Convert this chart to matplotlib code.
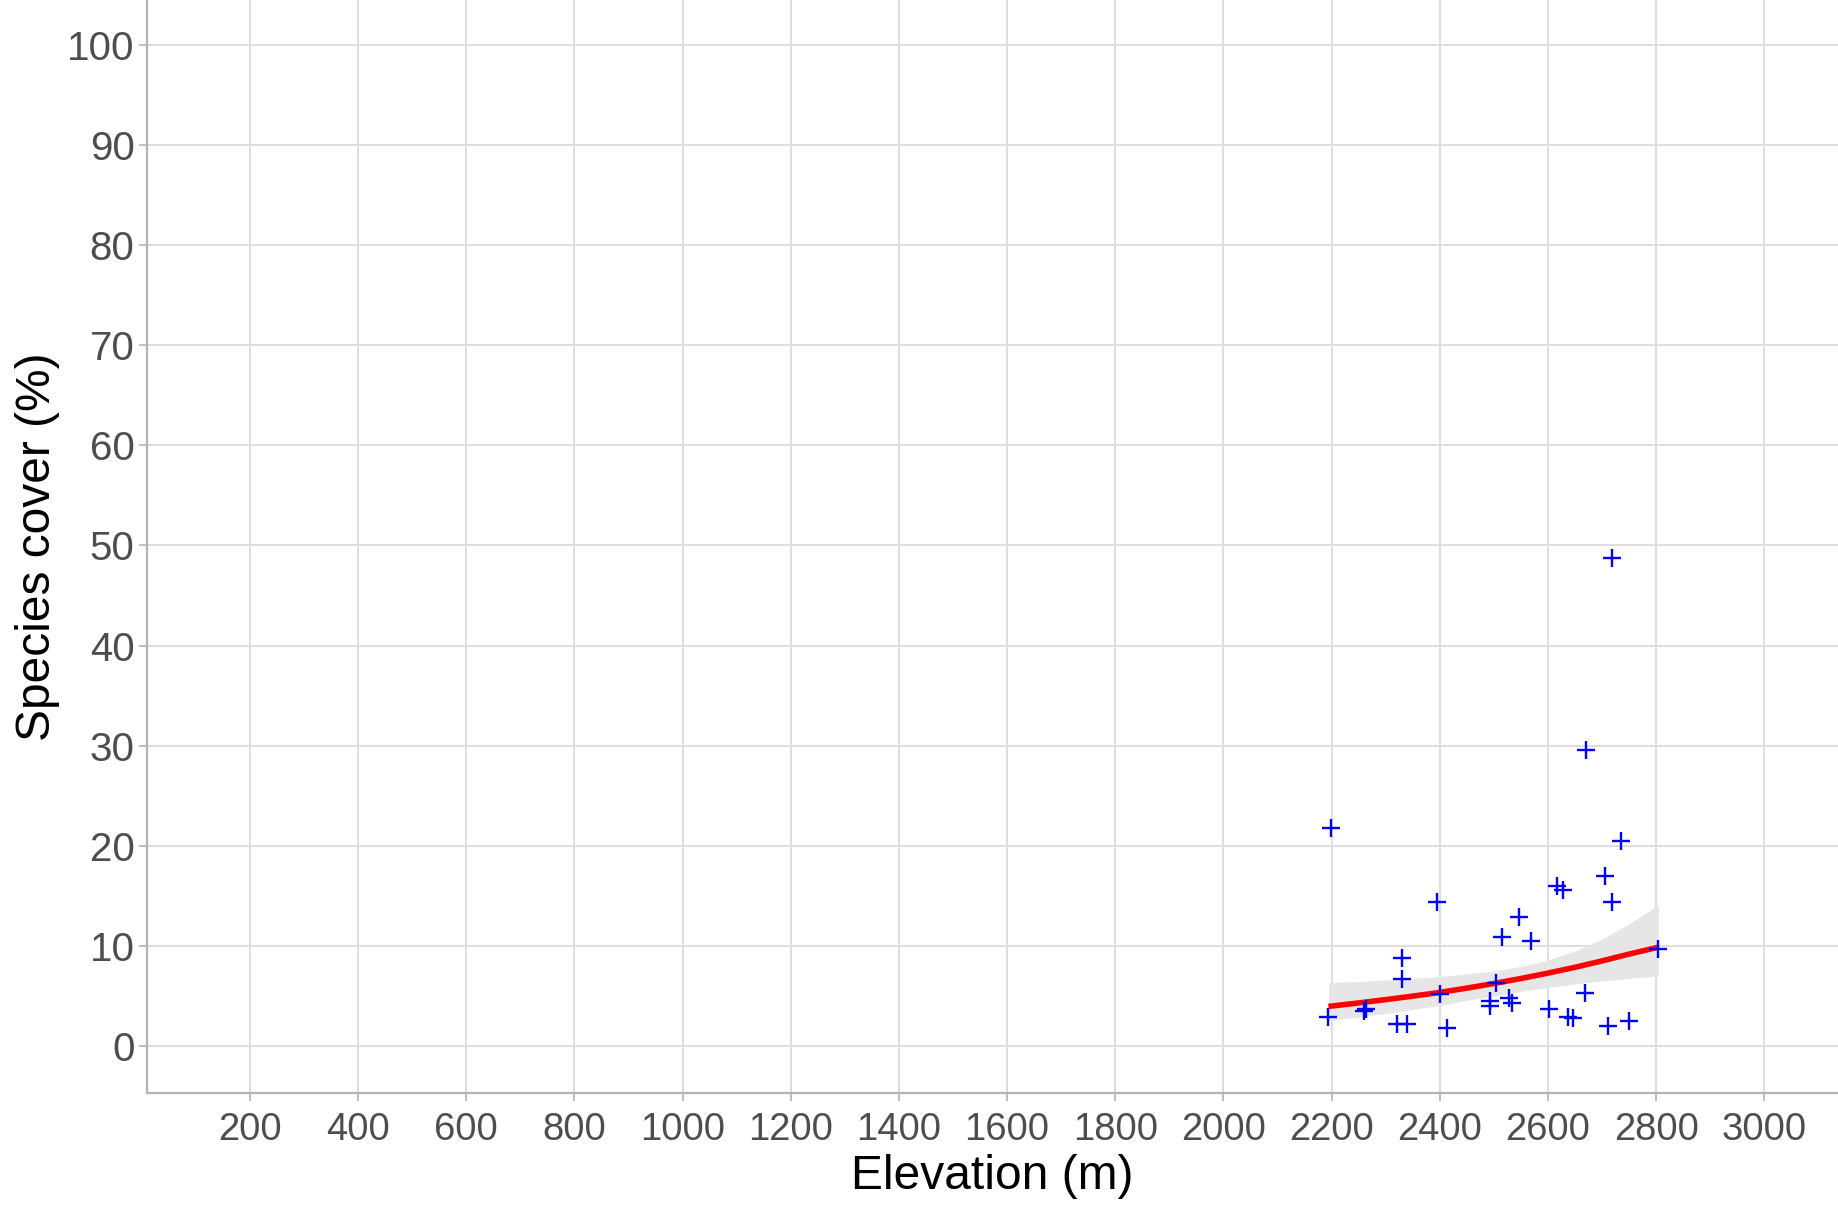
import numpy as np
import matplotlib
matplotlib.use("Agg")
from matplotlib import pyplot as plt

# points (elevation m, cover %)
elevation = [2199, 2734, 2705, 2616, 2628, 2395, 2719, 2547, 2514, 2568,
             2804, 2330, 2330, 2504, 2668, 2401, 2527, 2493, 2534, 2493,
             2602, 2263, 2260, 2194, 2637, 2647, 2321, 2340, 2750, 2711,
             2413, 2718, 2671]
cover = [21.8, 20.5, 17.0, 16.0, 15.6, 14.4, 14.4, 12.9, 10.9, 10.5,
         9.7, 8.8, 6.7, 6.3, 5.3, 5.15, 4.8, 4.5, 4.3, 3.95,
         3.65, 3.7, 3.5, 2.9, 2.9, 2.8, 2.2, 2.15, 2.5, 2.0,
         1.8, 48.8, 29.6]

# fitted curve and its band, read at a few elevations
fit_x = [2194, 2250, 2300, 2350, 2400, 2450, 2500, 2550, 2600, 2650, 2700, 2750, 2804]
fit_y = [3.95, 4.3, 4.63, 4.98, 5.35, 5.78, 6.24, 6.74, 7.28, 7.86, 8.5, 9.18, 9.87]
band_lo = [2.5, 2.9, 3.25, 3.65, 4.05, 4.55, 5.0, 5.45, 5.85, 6.2, 6.5, 6.75, 7.0]
band_hi = [6.3, 6.45, 6.6, 6.75, 6.95, 7.2, 7.5, 7.95, 8.6, 9.5, 10.7, 12.2, 14.1]

x_ticks = list(range(200, 3001, 200))
y_ticks = list(range(0, 101, 10))

plt.rcParams['font.family'] = ['Liberation Sans', 'DejaVu Sans']

fig = plt.figure(figsize=(18.38, 12.10), dpi=100)
ax = fig.add_axes([147 / 1838, 1 - 1093 / 1210, 1 - 147 / 1838, 1093 / 1210])

ax.fill_between(fit_x, band_lo, band_hi, color='#E6E6E6', lw=0, zorder=2)
ax.plot(fit_x, fit_y, color='#FF0000', lw=4.0, zorder=3, solid_capstyle='butt')
ax.scatter(elevation, cover, marker='+', s=170, color='#0000FF', linewidths=1.7, zorder=4)

ax.set_xlim(10, 3136)
ax.set_ylim(-4.7, 104.5)
ax.set_xticks(x_ticks)
ax.set_yticks(y_ticks)
ax.grid(True, color='#DEDEDE', lw=1.4)
ax.set_axisbelow(True)

for side in ['top', 'right']:
    ax.spines[side].set_visible(False)
for side in ['left', 'bottom']:
    ax.spines[side].set_color('#B3B3B3')
    ax.spines[side].set_linewidth(1.6)

ax.tick_params(axis='both', colors='#B3B3B3', length=6, width=1.2,
               labelcolor='#4D4D4D')
ax.tick_params(axis='x', pad=8, labelsize=27.5)
ax.tick_params(axis='y', pad=3, labelsize=29)

ax.set_xlabel("Elevation (m)", fontsize=34.5, color='black', labelpad=4)
ax.set_ylabel("Species cover (%)", fontsize=34.5, color='black', labelpad=5)

fig.savefig("out.png", dpi=100)
